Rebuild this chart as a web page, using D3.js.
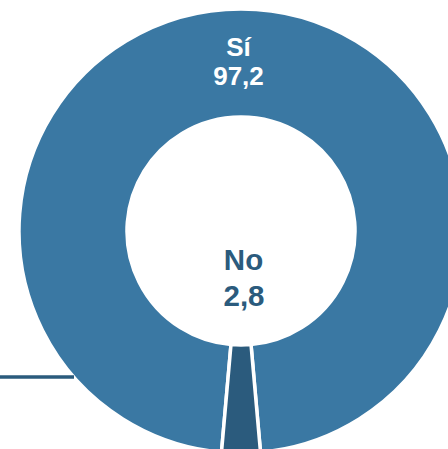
<!DOCTYPE html>
<html><head><meta charset="utf-8">
<script src="https://cdn.jsdelivr.net/npm/d3@7"></script>
<style>html,body{margin:0;padding:0;background:#fff;overflow:hidden}</style>
</head><body>
<svg id="c" width="448" height="449"></svg>
<script>
const categories = ["Sí", "No"];
const values = [97.2, 2.8];
const valueLabels = ["97,2", "2,8"];
const colors = ["#3a78a3", "#2b5b7d"];

const svg = d3.select("#c");
const cx = 241, cy = 231, rOuter = 222, rInner = 114;
const g = svg.append("g").attr("transform", `translate(${cx},${cy})`);

// leader line fragment on the left
svg.append("line").attr("x1", 0).attr("x2", 74).attr("y1", 377).attr("y2", 377)
  .attr("stroke", colors[1]).attr("stroke-width", 3.5);

const data = categories.map((c, i) => ({cat: c, value: values[i], label: valueLabels[i], color: colors[i]}));
const noShare = values[1] / d3.sum(values);
const start = Math.PI * (1 + noShare);
const pie = d3.pie().value(d => d.value).sort(null).startAngle(start).endAngle(start + 2 * Math.PI);
const arc = d3.arc().innerRadius(rInner).outerRadius(rOuter);

g.selectAll("path").data(pie(data)).join("path")
  .attr("d", arc).attr("fill", d => d.data.color)
  .attr("stroke", "#fff").attr("stroke-width", 3.5);

// Sí label at top of ring
const t1 = g.append("text").attr("text-anchor", "middle")
  .attr("font-family", "Liberation Sans, Arial, sans-serif").attr("font-weight", "bold")
  .attr("font-size", 26).attr("fill", "#fff");
t1.append("tspan").attr("x", -2.5).attr("y", 55.5 - cy).text(data[0].cat);
t1.append("tspan").attr("x", -2.5).attr("y", 85 - cy).text(data[0].label);

// No label inside hole
const t2 = g.append("text").attr("text-anchor", "middle")
  .attr("font-family", "Liberation Sans, Arial, sans-serif").attr("font-weight", "bold")
  .attr("font-size", 29.5).attr("fill", colors[1]);
t2.append("tspan").attr("x", 2.5).attr("y", 269.5 - cy).text(data[1].cat);
t2.append("tspan").attr("x", 3).attr("y", 305.5 - cy).text(data[1].label);
</script>
</body></html>
